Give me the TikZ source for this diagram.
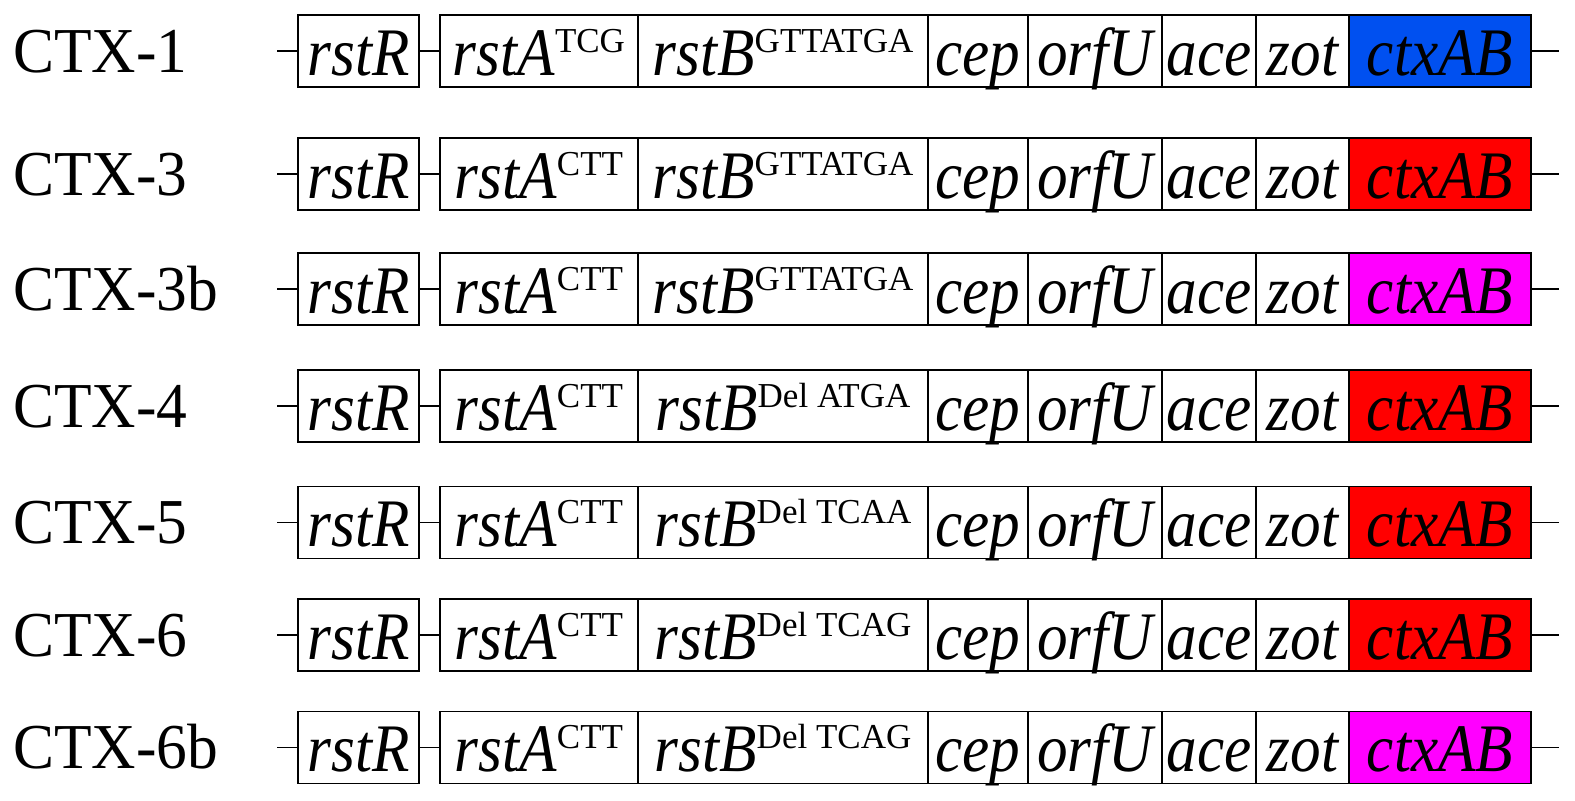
\documentclass[tikz,border=0pt]{standalone}
\usepackage{fontspec}
\setmainfont{Liberation Serif}
\usetikzlibrary{positioning}
\definecolor{ctxblue}{RGB}{0,80,240}
\definecolor{ctxred}{RGB}{255,0,0}
\definecolor{ctxpink}{RGB}{255,0,255}
\newcommand{\gname}[1]{\scalebox{0.9}[1]{\itshape #1}}
\newcommand{\gsup}[1]{\raisebox{11.5pt}{\fontsize{17.5}{20}\selectfont #1}}
\begin{document}
\begin{tikzpicture}[x=0.5pt,y=-0.5pt,
  gene/.style={draw=black,line width=0.8pt,inner sep=0pt,outer sep=0pt,minimum width=#1,
    text height=30pt,text depth=6pt,font=\fontsize{34}{38}\selectfont},
  strain/.style={anchor=base west,inner sep=0pt,font=\fontsize{32}{36}\selectfont},
  link/.style={line width=0.8pt}]
\useasboundingbox (0,0) rectangle (1575,800);
\foreach \n/\y/\a/\b/\c in {1/51/TCG/GTTATGA/ctxblue,3/174/CTT/GTTATGA/ctxred,
  3b/289/CTT/GTTATGA/ctxpink,4/406/CTT/Del ATGA/ctxred,5/522.5/CTT/Del TCAA/ctxred,
  6/635/CTT/Del TCAG/ctxred,6b/747.5/CTT/Del TCAG/ctxpink}{
  \node[strain] (lab\n) at (13,\y+21) {\scalebox{0.96}[1]{CTX-\n}};
  \node[gene=60.5pt,anchor=west] (rstR\n) at (298,\y) {\gname{rstR}};
  \node[gene=99pt,right=10.5pt of rstR\n] (rstA\n) {\gname{rstA}\gsup{\a}};
  \node[gene=145pt,right=0pt of rstA\n] (rstB\n) {\gname{rstB}\gsup{\b}};
  \node[gene=50pt,right=0pt of rstB\n] (cep\n) {\gname{cep}};
  \node[gene=67pt,right=0pt of cep\n] (orfU\n) {\gname{orfU}};
  \node[gene=47pt,right=0pt of orfU\n] (ace\n) {\gname{ace}};
  \node[gene=46.5pt,right=0pt of ace\n] (zot\n) {\gname{zot}};
  \node[gene=91pt,fill=\c,right=0pt of zot\n] (ctxAB\n) {\gname{ctxAB}};
  \coordinate (in\n) at (277,\y);
  \coordinate (out\n) at (1559,\y);
  \draw[link] (in\n) -- (rstR\n) -- (rstA\n) (ctxAB\n) -- (out\n);
}
\end{tikzpicture}
\end{document}
